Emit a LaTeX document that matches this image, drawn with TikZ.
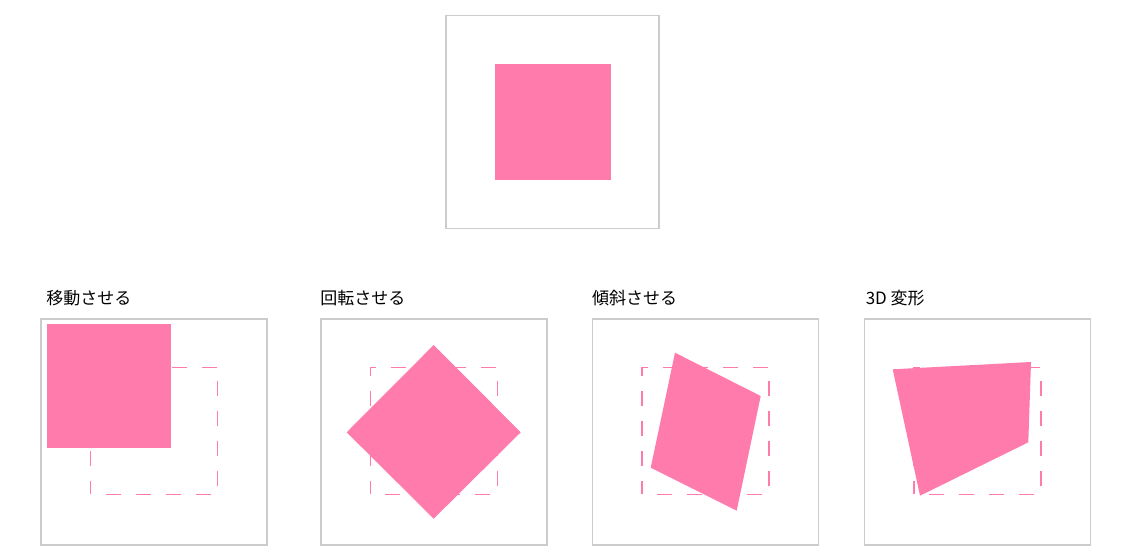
\documentclass[tikz,border=0pt]{standalone}
\usepackage{fontspec}
\setmainfont{Noto Sans CJK JP}
\usetikzlibrary{positioning}
\definecolor{shapepink}{HTML}{FF7BAC}
\definecolor{framegray}{HTML}{CCCCCC}

\begin{document}
\begin{tikzpicture}[x=1pt, y=-1pt,
		frame/.style={rectangle, draw=framegray, line width=1.5pt, minimum size=226pt, inner sep=0pt},
		ghost/.style={rectangle, draw=shapepink, line width=1.6pt, dash pattern=on 15pt off 15pt, dash phase=15pt, minimum size=127pt, inner sep=0pt, yshift=1pt},
		caption/.style={anchor=base west, inner sep=0pt, text=black, font=\fontsize{17}{17}\selectfont},
		pinkfill/.style={fill=shapepink, draw=none}
]
\useasboundingbox (0,0) rectangle (1121,557);

% original
\node [frame, minimum size=213pt] (Top) at (552.5,122) {};
\fill [pinkfill] (494.5,64) rectangle (611,180.3);

% frames
\node [frame] (Move) at (154,431.8) {};
\node [frame] (Rotate) at (433.8,431.8) {};
\node [frame] (Skew) at (705.7,431.8) {};
\node [frame] (Warp) at (977.3,431.8) {};

\node [caption, above=14pt of Move.north west, anchor=base west, xshift=6pt] (MoveText) {移動させる};
\node [caption, above=14pt of Rotate.north west, anchor=base west] (RotateText) {回転させる};
\node [caption, above=14pt of Skew.north west, anchor=base west] (SkewText) {傾斜させる};
\node [caption, above=14pt of Warp.north west, anchor=base west, xshift=2pt] (WarpText) {3D 変形};

% dashed outlines of the original position
\node [ghost] (MoveGhost) at (Move.center) {};
\node [ghost] (RotateGhost) at (Rotate.center) {};
\node [ghost] (SkewGhost) at (Skew.center) {};
\node [ghost] (WarpGhost) at (Warp.center) {};

% transformed shapes
\fill [pinkfill] (47,324) rectangle (171,448);
\fill [pinkfill] (433.7,345) -- (520.7,432.3) -- (433.7,518.7) -- (346.7,432.3) -- cycle;
\fill [pinkfill] (675,352.7) -- (760.7,396) -- (736.7,510.7) -- (650.7,467.7) -- cycle;
\fill [pinkfill] (892.7,369.3) -- (1031,362) -- (1028.3,442.3) -- (920,495.7) -- cycle;

\end{tikzpicture}
\end{document}
